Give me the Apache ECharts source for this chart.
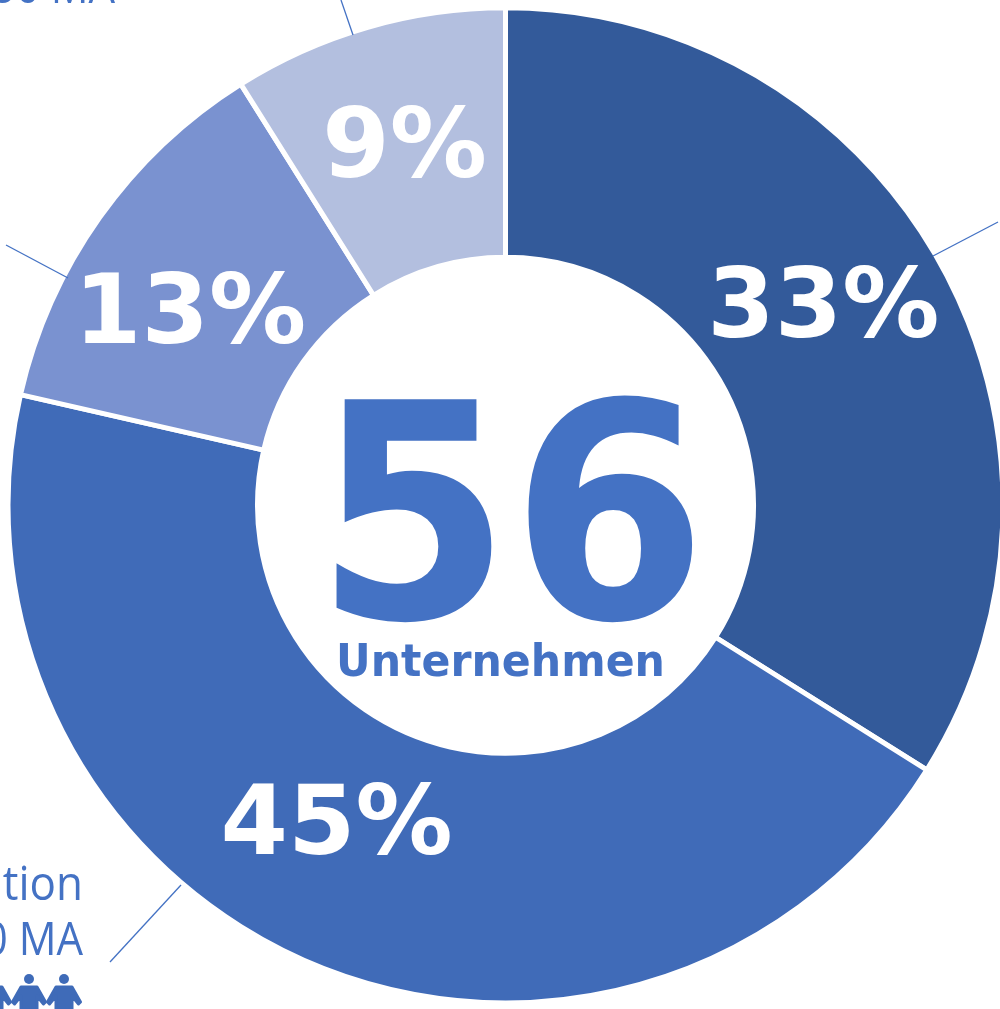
<!DOCTYPE html>
<html><head><meta charset="utf-8">
<style>html,body{margin:0;padding:0;background:#fff}#c{width:1000px;height:1009px}</style>
<script src="https://cdn.jsdelivr.net/npm/echarts@6/dist/echarts.min.js"></script></head>
<body><div id="c"></div>
<script>
const companyCounts = [19, 25, 7, 5];
const percentLabels = ['33%', '45%', '13%', '9%'];
const sliceColors = ['#335A9A', '#406BB8', '#7A92D0', '#B3BFDF'];
const labelOffsets = [[-11, -12], [-25, -24], [-9, 30], [3, 8]];
const totalLabel = '56';
const totalCaption = 'Unternehmen';
const leaders = [[933,256,998,222],[68,278,6,245],[353,35,341,0],[181,885,110,962]];
const blue = '#4472C4', iconBlue = '#3F6BB8';
const font = '"DejaVu Sans"';

function person(cx) {
  return [
    {type:'circle', z:10, shape:{cx:cx, cy:979, r:5}, style:{fill:iconBlue}, silent:true},
    {type:'polygon', z:10, shape:{points:[[cx-8,987],[cx+8,987],[cx+16.5,1002],[cx+14.5,1004],[cx+8,996],[cx+8,1010],[cx-8,1010],[cx-8,996],[cx-14.5,1004],[cx-16.5,1002]]}, style:{fill:iconBlue, stroke:iconBlue, lineWidth:3, lineJoin:'round'}, silent:true}
  ];
}
const chart = echarts.init(document.getElementById('c'), null, {renderer:'canvas'});
chart.setOption({
  backgroundColor:'#fff',
  animation:false,
  series:[{
    type:'pie', center:[505.5,505.3], radius:[248,497.5], startAngle:90, clockwise:true, silent:true,
    itemStyle:{borderColor:'#fff', borderWidth:5},
    labelLine:{show:false},
    data:companyCounts.map((v,i)=>({
      value:v,
      itemStyle:{color:sliceColors[i]},
      label:{show:true, position:'inside', formatter:percentLabels[i], offset:labelOffsets[i],
        color:'#fff', fontFamily:font, fontWeight:'bold', fontSize:97}
    }))
  }],
  graphic:[
    {type:'text', z:10, x:511, y:540, scaleX:0.94, scaleY:1, style:{text:totalLabel, fill:blue, font:'bold 300px '+font, textAlign:'center', textVerticalAlign:'middle'}, silent:true},
    {type:'text', z:10, x:500.5, y:665, scaleX:0.97, style:{text:totalCaption, fill:blue, font:'bold 44px '+font, textAlign:'center', textVerticalAlign:'middle'}, silent:true},
    {type:'text', z:10, x:83, y:886, scaleY:1.1, style:{text:'Organisation', fill:blue, font:'44px "Open Sans"', textAlign:'right', textVerticalAlign:'middle'}, silent:true},
    {type:'text', z:10, x:83, y:942, scaleY:1.1, style:{text:'250 MA', fill:blue, font:'42px "Open Sans"', textAlign:'right', textVerticalAlign:'middle'}, silent:true},
    {type:'text', z:10, x:115, y:-10, scaleY:1.1, style:{text:'bis 50 MA', fill:blue, font:'42px "Open Sans"', textAlign:'right', textVerticalAlign:'middle'}, silent:true},
    ...leaders.map(p=>({type:'line', z:10, shape:{x1:p[0],y1:p[1],x2:p[2],y2:p[3]}, style:{stroke:blue,lineWidth:1.3}, silent:true})),
    ...person(64), ...person(29), ...person(-6)
  ]
});
</script></body></html>
